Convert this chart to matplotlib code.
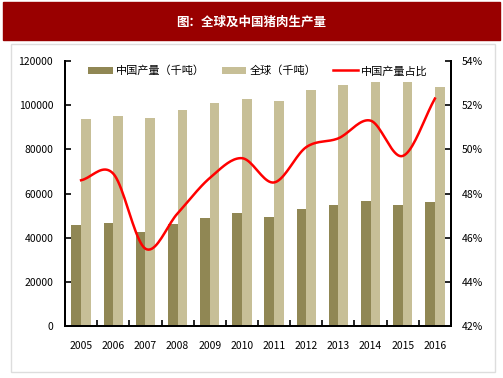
import numpy as np
import matplotlib
matplotlib.use('Agg')
from matplotlib import pyplot as plt
from matplotlib.patches import Rectangle

plt.rcParams['font.family'] = ['Noto Sans CJK SC', 'DejaVu Sans']

years = ['2005', '2006', '2007', '2008', '2009', '2010',
         '2011', '2012', '2013', '2014', '2015', '2016']
china = [45600, 46500, 42400, 46200, 48700, 51000,
         49200, 53000, 54900, 56600, 54600, 56300]
world = [93700, 95200, 94300, 97600, 100800, 102900,
         102000, 107000, 109000, 110500, 110500, 108100]
share = [48.6, 48.9, 45.5, 47.1, 48.7, 49.6,
         48.5, 50.1, 50.5, 51.3, 49.7, 52.3]

c_china = '#908754'
c_world = '#c7bf97'
c_red = '#ff0000'


def smooth(x, y, n=20):
    # catmull-rom, only for drawing the smoothed line
    x = np.asarray(x, float)
    y = np.asarray(y, float)
    px = np.concatenate([[2*x[0]-x[1]], x, [2*x[-1]-x[-2]]])
    py = np.concatenate([[2*y[0]-y[1]], y, [2*y[-1]-y[-2]]])
    xs, ys = [], []
    t = np.linspace(0, 1, n, endpoint=False)
    for i in range(1, len(px)-2):
        for p, out in ((px, xs), (py, ys)):
            p0, p1, p2, p3 = p[i-1], p[i], p[i+1], p[i+2]
            out.extend(0.5*((2*p1) + (-p0+p2)*t + (2*p0-5*p1+4*p2-p3)*t**2
                            + (-p0+3*p1-3*p2+p3)*t**3))
    xs.append(x[-1])
    ys.append(y[-1])
    return np.array(xs), np.array(ys)


fig = plt.figure(figsize=(5.03, 3.78), dpi=100)

# title banner and frame
fig.patches.append(Rectangle((3/503, 1-40/378), 497/503, 38/378,
                             transform=fig.transFigure, color='#990000', zorder=0))
fig.text(251/503, 1-22/378, '图：全球及中国猪肉生产量', color='white',
         fontsize=9, fontweight='bold', ha='center', va='center')
fig.patches.append(Rectangle((11/503, 1-372/378), 484/503, 328/378,
                             transform=fig.transFigure, fill=False,
                             edgecolor='#dddddd', lw=1, zorder=0))

ax = fig.add_axes([65/503, 1-326/378, 386/503, 265/378])
x = np.arange(len(years))
w = 0.3
b1 = ax.bar(x - w/2, china, w, color=c_china, label='中国产量（千吨）', zorder=2)
b2 = ax.bar(x + w/2, world, w, color=c_world, label='全球（千吨）', zorder=2)
ax.set_xlim(-0.5, len(years)-0.5)
ax.set_ylim(0, 120000)
ax.set_yticks(range(0, 120001, 20000))
ax.set_xticks(x)
ax.set_xticklabels(years, fontsize=7.5)
ax.set_xticks(np.arange(-0.5, len(years), 1), minor=True)
ax.tick_params(axis='x', which='major', length=0, pad=11)
ax.tick_params(axis='x', which='minor', direction='in', length=4, width=1.2)
ax.tick_params(axis='y', direction='in', length=4, width=1.2, labelsize=7.5, pad=8.5)
for s in ['left', 'bottom', 'right']:
    ax.spines[s].set_linewidth(1.4)
ax.spines['top'].set_visible(False)

ax2 = ax.twinx()
sx, sy = smooth(x, share)
ln, = ax2.plot(sx, sy, color=c_red, lw=1.8, label='中国产量占比')
ax2.set_ylim(42, 54)
ax2.set_yticks(range(42, 55, 2))
ax2.set_yticklabels([f'{v}%' for v in range(42, 55, 2)])
ax2.tick_params(axis='y', direction='in', length=4, width=1.2, labelsize=7.5, pad=8)
for s in ['left', 'bottom', 'right']:
    ax2.spines[s].set_linewidth(1.4)
ax2.spines['top'].set_visible(False)

ax.legend([b1, b2, ln], ['中国产量（千吨）', '全球（千吨）', '中国产量占比'],
          ncol=3, frameon=False, fontsize=8, loc='upper center',
          bbox_to_anchor=(0.5, 1.02), handlelength=2.2, handleheight=0.7,
          columnspacing=1.5, handletextpad=0.3)

fig.savefig('out.png', dpi=100)
